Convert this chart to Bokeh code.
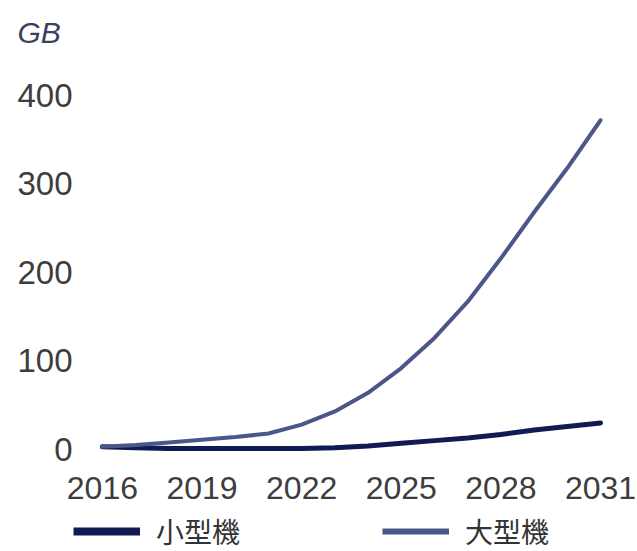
from bokeh.plotting import figure
from bokeh.layouts import column
from bokeh.models import Legend, LegendItem, FixedTicker, Range1d
from bokeh.embed import file_html
from bokeh.resources import INLINE

years = list(range(2016, 2032))
small = [3, 2, 1, 1, 1, 1, 1, 2, 4, 7, 10, 13, 17, 22, 26, 30]
large = [3, 5, 8, 11, 14, 18, 28, 43, 64, 92, 126, 167, 216, 268, 318, 372]
x_ticks = [2016, 2019, 2022, 2025, 2028, 2031]
y_ticks = [0, 100, 200, 300, 400]
series_names = ["小型機", "大型機"]
colors = ["#111a52", "#4b5689"]

W = 637
FRAME_L, FRAME_T, FRAME_W, FRAME_H = 73, 60, 537, 398
H1 = 512
H2 = 551 - H1

p = figure(width=W, height=H1, output_backend="svg", toolbar_location=None,
           x_range=Range1d(2015.13, 2031.3), y_range=Range1d(-10.2, 439.5),
           frame_width=FRAME_W, frame_height=FRAME_H,
           min_border_left=FRAME_L, min_border_top=FRAME_T,
           min_border_right=W - FRAME_L - FRAME_W, min_border_bottom=H1 - FRAME_T - FRAME_H)
p.outline_line_color = None
p.grid.visible = False
p.background_fill_color = "white"
p.border_fill_color = "white"

for ax in (p.xaxis[0], p.yaxis[0]):
    ax.axis_line_color = None
    ax.major_tick_line_color = None
    ax.minor_tick_line_color = None
    ax.major_label_text_font = "Liberation Sans"
    ax.major_label_text_color = "#3d3d3d"
p.xaxis[0].major_label_text_font_size = "32px"
p.yaxis[0].major_label_text_font_size = "33px"
p.xaxis[0].ticker = FixedTicker(ticks=x_ticks)
p.yaxis[0].ticker = FixedTicker(ticks=y_ticks)
p.xaxis[0].major_label_standoff = 12
p.yaxis[0].major_label_standoff = -5

p.title.text = "GB"
p.title.text_font = "Liberation Sans"
p.title.text_font_style = "italic"
p.title.text_font_size = "30px"
p.title.text_color = "#3a4060"
p.title.align = "left"
p.title.offset = -56
p.title.standoff = 23

p.line(years, small, line_color=colors[0], line_width=5, line_cap="round", line_join="round")
p.line(years, large, line_color=colors[1], line_width=4, line_cap="round", line_join="round")

# legend strip (same frame geometry as the chart)
q = figure(width=W, height=H2, output_backend="svg", toolbar_location=None,
           x_axis_type=None, y_axis_type=None, x_range=Range1d(0, 1), y_range=Range1d(0, 1),
           frame_width=FRAME_W, frame_height=H2,
           min_border_left=FRAME_L, min_border_right=W - FRAME_L - FRAME_W,
           min_border_top=0, min_border_bottom=0)
q.outline_line_color = None
q.grid.visible = False
q.border_fill_color = "white"
q.background_fill_color = "white"
l1 = q.line([-5, -4], [-5, -4], line_color=colors[0], line_width=8)
l2 = q.line([-5, -4], [-5, -4], line_color=colors[1], line_width=6)
legend = Legend(items=[LegendItem(label=series_names[0], renderers=[l1]),
                       LegendItem(label=series_names[1], renderers=[l2])],
                orientation="horizontal", location=(0, 0),
                glyph_width=67, glyph_height=10, label_standoff=16, spacing=142,
                padding=0, margin=0, border_line_alpha=0, background_fill_alpha=0,
                label_text_font="Noto Sans CJK JP", label_text_font_size="28px",
                label_text_color="#333333")
q.add_layout(legend, "center")

layout = column(p, q, spacing=0)
open("out.html", "w").write(file_html(layout, INLINE))
